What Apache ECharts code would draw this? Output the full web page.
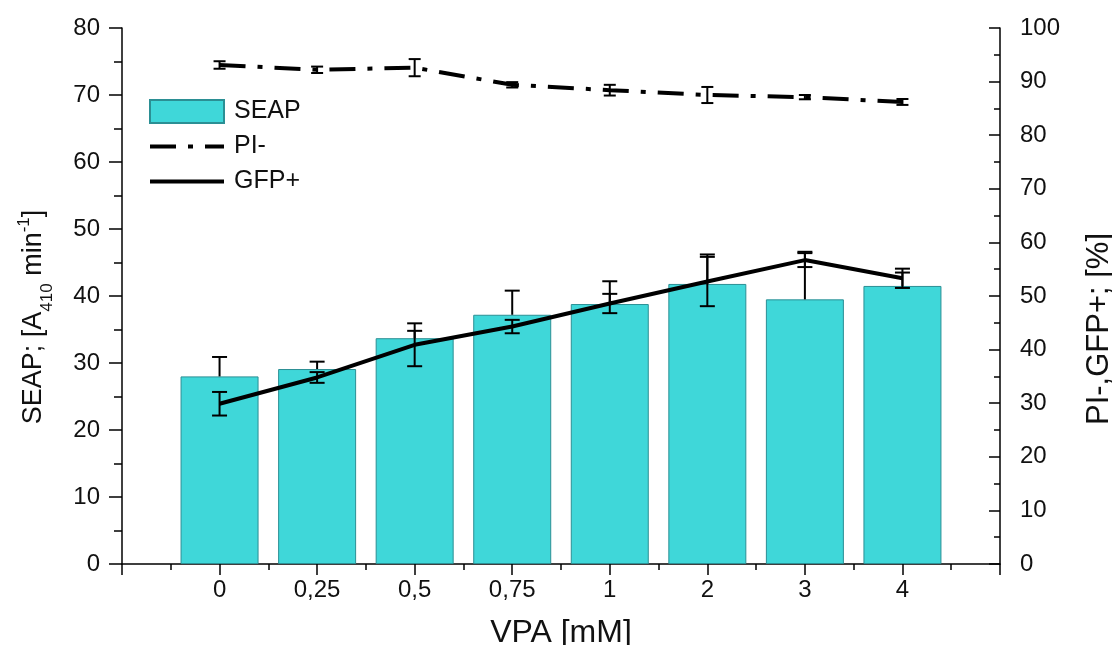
<!DOCTYPE html>
<html>
<head>
<meta charset="utf-8">
<script src="https://cdn.jsdelivr.net/npm/echarts@6/dist/echarts.min.js"></script>
<style>
html,body{margin:0;padding:0;background:#fff;}
#chart{width:1112px;height:645px;}
</style>
</head>
<body>
<div id="chart"></div>
<script>
const categories = ['0', '0,25', '0,5', '0,75', '1', '2', '3', '4'];
const seap = [28.0, 29.1, 33.7, 37.2, 38.8, 41.8, 39.5, 41.5];
const seapErr = [2.9, 1.1, 1.1, 3.6, 3.4, 4.4, 7.1, 2.0];
const gfp = [29.9, 34.8, 40.9, 44.3, 48.6, 52.7, 56.7, 53.3];
const gfpErr = [2.2, 1.0, 4.0, 1.25, 1.8, 4.6, 1.3, 1.8];
const pi = [93.1, 92.2, 92.6, 89.4, 88.4, 87.5, 87.1, 86.2];
const piErr = [0.7, 0.6, 1.6, 0.5, 1.0, 1.5, 0.4, 0.55];
const leftTicks = [0, 80, 10];
const rightTicks = [0, 100, 10];

const FONT = "'Liberation Sans', Arial, sans-serif";
const PI_DASH = [26, 12, 5, 12];
const chart = echarts.init(document.getElementById('chart'), null, {renderer: 'canvas'});

function errRender(upperOnly, capW) {
  return function (params, api) {
    const x = api.value(0), y = api.value(1), e = api.value(2);
    const c = api.coord([x, y]);
    const hi = api.coord([x, y + e]);
    const lo = upperOnly ? c : api.coord([x, y - e]);
    const st = {stroke: '#000', lineWidth: 2};
    const children = [
      {type: 'line', shape: {x1: hi[0], y1: hi[1], x2: lo[0], y2: lo[1]}, style: st},
      {type: 'line', shape: {x1: hi[0] - capW / 2, y1: hi[1], x2: hi[0] + capW / 2, y2: hi[1]}, style: st}
    ];
    if (!upperOnly) {
      children.push({type: 'line', shape: {x1: lo[0] - capW / 2, y1: lo[1], x2: lo[0] + capW / 2, y2: lo[1]}, style: st});
    }
    return {type: 'group', children: children};
  };
}

const xy = (arr) => arr.map((v, i) => [i, v]);
const xye = (arr, err) => arr.map((v, i) => [i, v, err[i]]);

const option = {
  animation: false,
  backgroundColor: '#fff',
  textStyle: {fontFamily: FONT},
  grid: {left: 122, right: 112, top: 28, bottom: 81, containLabel: false, outerBoundsMode: 'none'},
  legend: {
    orient: 'vertical', left: 143, top: 94,
    itemWidth: 74, itemHeight: 23, itemGap: 10,
    textStyle: {fontSize: 25, color: '#111', fontFamily: FONT, padding: [0, 0, 0, 5]},
    data: [
      {name: 'SEAP', icon: 'rect'},
      {name: 'PI-', itemStyle: {opacity: 0}, lineStyle: {color: '#000', width: 4, type: PI_DASH}},
      {name: 'GFP+', itemStyle: {opacity: 0}, lineStyle: {color: '#000', width: 4, type: 'solid'}}
    ],
    selectedMode: false
  },
  xAxis: {
    type: 'value', min: -1, max: 8, interval: 1,
    name: 'VPA [mM]', nameLocation: 'middle', nameGap: 53,
    nameTextStyle: {fontSize: 32, color: '#111', fontFamily: FONT},
    axisLine: {show: true, onZero: false, lineStyle: {color: '#000', width: 1.5}},
    axisTick: {show: true, length: 11, lineStyle: {color: '#000', width: 1.5}},
    minorTick: {show: true, splitNumber: 2, length: 6, lineStyle: {color: '#000', width: 1.5}},
    splitLine: {show: false},
    axisLabel: {
      fontSize: 24, color: '#111', margin: 14, fontFamily: FONT,
      formatter: (v) => (v >= 0 && v < categories.length) ? categories[v] : ''
    }
  },
  yAxis: [
    {
      type: 'value', position: 'left', min: leftTicks[0], max: leftTicks[1], interval: leftTicks[2],
      name: '{a|SEAP; [A}{sub|410}{a| min}{sup|-1}{a|]}',
      nameLocation: 'middle', nameGap: 70,
      nameTextStyle: {
        fontFamily: FONT, color: '#111', padding: [0, 42, 0, 0],
        rich: {
          a: {fontSize: 27, fontFamily: FONT, color: '#111', lineHeight: 36},
          sub: {fontSize: 17, fontFamily: FONT, color: '#111', verticalAlign: 'bottom', lineHeight: 36, padding: [0, 0, -4, 0]},
          sup: {fontSize: 17, fontFamily: FONT, color: '#111', verticalAlign: 'top', lineHeight: 36}
        }
      },
      axisLine: {show: true, onZero: false, lineStyle: {color: '#000', width: 1.5}},
      axisTick: {show: true, inside: false, length: 13, lineStyle: {color: '#000', width: 1.5}},
      minorTick: {show: true, splitNumber: 2, length: 8, lineStyle: {color: '#000', width: 1.5}},
      splitLine: {show: false},
      axisLabel: {fontSize: 24, color: '#111', margin: 22, fontFamily: FONT}
    },
    {
      type: 'value', position: 'right', min: rightTicks[0], max: rightTicks[1], interval: rightTicks[2],
      name: 'PI-,GFP+; [%]', nameLocation: 'middle', nameGap: 84, nameRotate: 90,
      nameTextStyle: {fontSize: 31, color: '#111', fontFamily: FONT, padding: [0, 66, 0, 0]},
      axisLine: {show: true, onZero: false, lineStyle: {color: '#000', width: 1.5}},
      axisTick: {show: true, inside: true, length: 11, lineStyle: {color: '#000', width: 1.5}},
      minorTick: {show: true, splitNumber: 2, length: 6, lineStyle: {color: '#000', width: 1.5}},
      splitLine: {show: false},
      axisLabel: {fontSize: 24, color: '#111', margin: 20, fontFamily: FONT}
    }
  ],
  series: [
    {
      name: 'SEAP', type: 'bar', yAxisIndex: 0, barWidth: 78, z: 2,
      itemStyle: {color: '#3fd7d9', borderColor: '#2b8f94', borderWidth: 1},
      data: xy(seap)
    },
    {
      name: 'SEAP err', type: 'custom', yAxisIndex: 0, z: 3,
      renderItem: errRender(true, 15), encode: {x: 0, y: 1},
      data: xye(seap, seapErr)
    },
    {
      name: 'GFP+', type: 'line', yAxisIndex: 1, z: 5, symbol: 'none', showSymbol: false,
      lineStyle: {color: '#000', width: 4},
      itemStyle: {color: '#000'},
      data: xy(gfp)
    },
    {
      name: 'GFP err', type: 'custom', yAxisIndex: 1, z: 6,
      renderItem: errRender(false, 15), encode: {x: 0, y: 1},
      data: xye(gfp, gfpErr)
    },
    {
      name: 'PI-', type: 'line', yAxisIndex: 1, z: 5, symbol: 'none', showSymbol: false,
      lineStyle: {color: '#000', width: 4, type: PI_DASH},
      itemStyle: {color: '#000'},
      data: xy(pi)
    },
    {
      name: 'PI err', type: 'custom', yAxisIndex: 1, z: 6,
      renderItem: errRender(false, 12), encode: {x: 0, y: 1},
      data: xye(pi, piErr)
    }
  ]
};
chart.setOption(option);
</script>
</body>
</html>
